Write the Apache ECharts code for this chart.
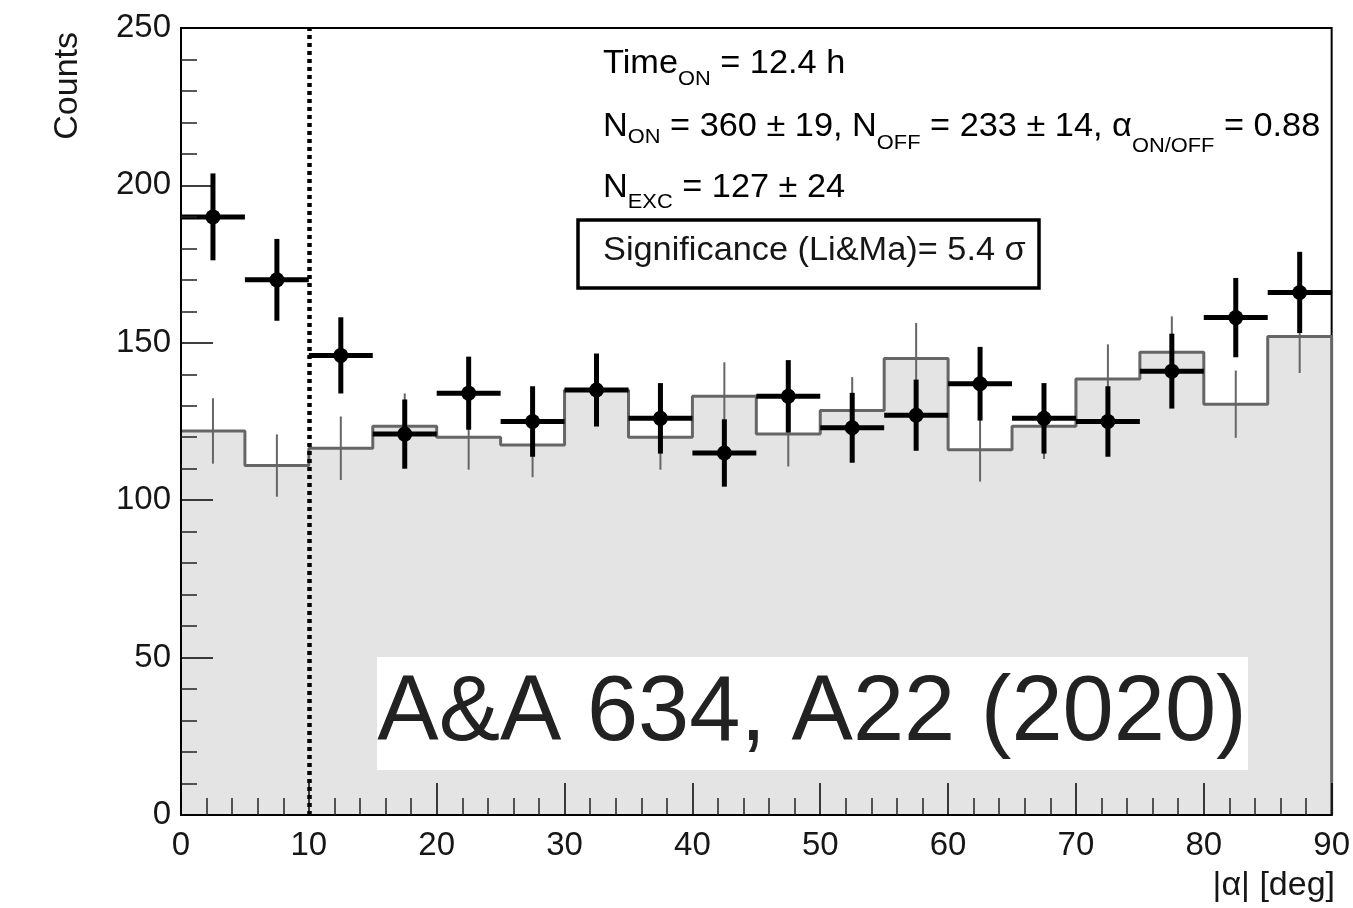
<!DOCTYPE html>
<html>
<head>
<meta charset="utf-8">
<script src="https://cdn.jsdelivr.net/npm/echarts@6/dist/echarts.min.js"></script>
<style>
html,body{margin:0;padding:0;background:#fff;}
#chart{width:1353px;height:908px;}
</style>
</head>
<body>
<div id="chart"></div>
<script>
// ---- data ----
const binCenters = [2.5, 7.5, 12.5, 17.5, 22.5, 27.5, 32.5, 37.5, 42.5, 47.5, 52.5, 57.5, 62.5, 67.5, 72.5, 77.5, 82.5, 87.5];
const binWidth = 5;
const onCounts  = [190, 170, 146, 121, 134, 125, 135, 126, 115, 133, 123, 127, 137, 126, 125, 141, 158, 166];
const onErrors  = [13.8, 13.0, 12.1, 11.0, 11.6, 11.2, 11.6, 11.2, 10.7, 11.5, 11.1, 11.3, 11.7, 11.2, 11.2, 11.9, 12.6, 12.9];
const offCounts = [122, 111, 116.5, 123.5, 120, 117.5, 135, 120, 133, 121, 128.5, 145, 116, 123.5, 138.5, 147, 130.5, 152];
const offErrors = [10.4, 9.9, 10.1, 10.4, 10.3, 10.2, 10.9, 10.3, 10.8, 10.3, 10.6, 11.3, 10.1, 10.4, 11.0, 11.4, 10.7, 11.6];
const cutValue = 10;
const xRange = [0, 90];
const yRange = [0, 250];
const xTickStep = 10;
const yTickStep = 50;

// ---- build ----
const FONT = "'Liberation Sans', Arial, Helvetica, sans-serif";
const half = binWidth / 2;
const histData = binCenters.map((c, i) => [c - half, offCounts[i]]);
const lastEdge = binCenters[binCenters.length - 1] + half;
histData.push([lastEdge, offCounts[offCounts.length - 1]]);
histData.push([lastEdge, 0]);

const onData = binCenters.map((c, i) => [c, onCounts[i], onErrors[i]]);
const offErrData = binCenters.map((c, i) => [c, offCounts[i], offErrors[i]]);

const chart = echarts.init(document.getElementById('chart'), null, {renderer: 'canvas'});

const TXT = '#161616';
const LH = 60;
function sub(p) {
  return {fontSize: 21, fontFamily: FONT, lineHeight: 21, padding: [p, 0, LH - 21 - p, 0], verticalAlign: 'top', color: TXT};
}
const rich = {
  m: {fontSize: 33, fontFamily: FONT, lineHeight: LH, verticalAlign: 'top', color: TXT},
  a: sub(22), b: sub(16), c: sub(22), d: sub(25), e: sub(20)
};

const option = {
  animation: false,
  backgroundColor: '#fff',
  grid: {left: 181, right: 16, top: 28, bottom: 93, show: true, borderColor: '#000', borderWidth: 2, backgroundColor: 'transparent'},
  xAxis: {
    type: 'value', min: xRange[0], max: xRange[1], interval: xTickStep, z: 5,
    axisLine: {show: true, onZero: false, lineStyle: {color: '#000', width: 2}},
    axisTick: {show: true, inside: true, length: 32, lineStyle: {color: '#000', width: 1.5}},
    minorTick: {show: true, splitNumber: 5, length: 17, lineStyle: {color: '#222', width: 1.5}},
    splitLine: {show: false},
    axisLabel: {fontSize: 33, fontFamily: FONT, color: TXT, margin: 14}
  },
  yAxis: {
    type: 'value', min: yRange[0], max: yRange[1], interval: yTickStep, z: 5,
    axisLine: {show: true, onZero: false, lineStyle: {color: '#000', width: 2}},
    axisTick: {show: true, inside: true, length: 32, lineStyle: {color: '#000', width: 1.5}},
    minorTick: {show: true, splitNumber: 5, length: 16, lineStyle: {color: '#222', width: 1.5}},
    splitLine: {show: false},
    axisLabel: {fontSize: 33, fontFamily: FONT, color: TXT, margin: 10}
  },
  series: [
    {
      type: 'line', name: 'OFF', data: histData, step: 'end', symbol: 'none', z: 1,
      lineStyle: {color: '#666', width: 3},
      areaStyle: {color: '#e4e4e4', origin: 'start', opacity: 1},
      markLine: {
        silent: true, symbol: 'none', z: 4,
        label: {show: false},
        lineStyle: {color: '#000', width: 4.5, type: [4, 4]},
        data: [{xAxis: cutValue}]
      }
    },
    {
      type: 'custom', name: 'OFF err', data: offErrData, z: 2,
      encode: {x: 0, y: 1},
      renderItem: function (params, api) {
        const x = api.value(0), y = api.value(1), e = api.value(2);
        const t = api.coord([x, y + e]), b = api.coord([x, y - e]);
        return {type: 'line', shape: {x1: t[0], y1: t[1], x2: b[0], y2: b[1]}, style: {stroke: '#666', lineWidth: 2}};
      }
    },
    {
      type: 'custom', name: 'ON', data: onData, z: 3,
      encode: {x: 0, y: 1},
      renderItem: function (params, api) {
        const x = api.value(0), y = api.value(1), e = api.value(2);
        const l = api.coord([x - half, y]), r = api.coord([x + half, y]);
        const t = api.coord([x, y + e]), b = api.coord([x, y - e]);
        const c = api.coord([x, y]);
        return {type: 'group', children: [
          {type: 'line', shape: {x1: l[0], y1: l[1], x2: r[0], y2: r[1]}, style: {stroke: '#000', lineWidth: 5}},
          {type: 'line', shape: {x1: t[0], y1: t[1], x2: b[0], y2: b[1]}, style: {stroke: '#000', lineWidth: 5}},
          {type: 'circle', shape: {cx: c[0], cy: c[1], r: 7.5}, style: {fill: '#000'}}
        ]};
      }
    }
  ],
  graphic: [
    {type: 'text', x: 68, y: 32, rotation: Math.PI / 2, z: 10,
     style: {text: 'Counts', fontSize: 34, fontFamily: FONT, fill: TXT, align: 'right', verticalAlign: 'middle'}},
    {type: 'text', x: 1335, y: 886, z: 10,
     style: {text: '|\u03b1| [deg]', fontSize: 34, fontFamily: FONT, fill: TXT, align: 'right', verticalAlign: 'middle'}},
    {type: 'text', x: 603, y: 47, scaleX: 1.04, z: 10,
     style: {text: '{m|Time}{a|ON}{m| = 12.4 h}', rich: rich, verticalAlign: 'top'}},
    {type: 'text', x: 603, y: 110.5, scaleX: 1.04, z: 10,
     style: {text: '{m|N}{b|ON}{m| = 360 \u00b1 19, N}{c|OFF}{m| = 233 \u00b1 14, \u03b1}{d|ON/OFF}{m| = 0.88}', rich: rich, verticalAlign: 'top'}},
    {type: 'text', x: 603, y: 171.5, scaleX: 1.04, z: 10,
     style: {text: '{m|N}{e|EXC}{m| = 127 \u00b1 24}', rich: rich, verticalAlign: 'top'}},
    {type: 'rect', z: 10, shape: {x: 578, y: 220, width: 461, height: 68},
     style: {fill: '#fff', stroke: '#000', lineWidth: 3.5}},
    {type: 'text', x: 603, y: 251, scaleX: 1.04, z: 11,
     style: {text: 'Significance (Li&Ma)= 5.4 \u03c3', fontSize: 33, fontFamily: FONT, fill: TXT, verticalAlign: 'middle'}},
    {type: 'rect', z: 10, shape: {x: 377, y: 657, width: 871, height: 113}, style: {fill: '#fff'}},
    {type: 'text', x: 812, y: 715, z: 11,
     style: {text: 'A&A 634, A22 (2020)', fontSize: 92, fontFamily: FONT, fill: '#222', align: 'center', verticalAlign: 'middle'}}
  ]
};
chart.setOption(option);
</script>
</body>
</html>
